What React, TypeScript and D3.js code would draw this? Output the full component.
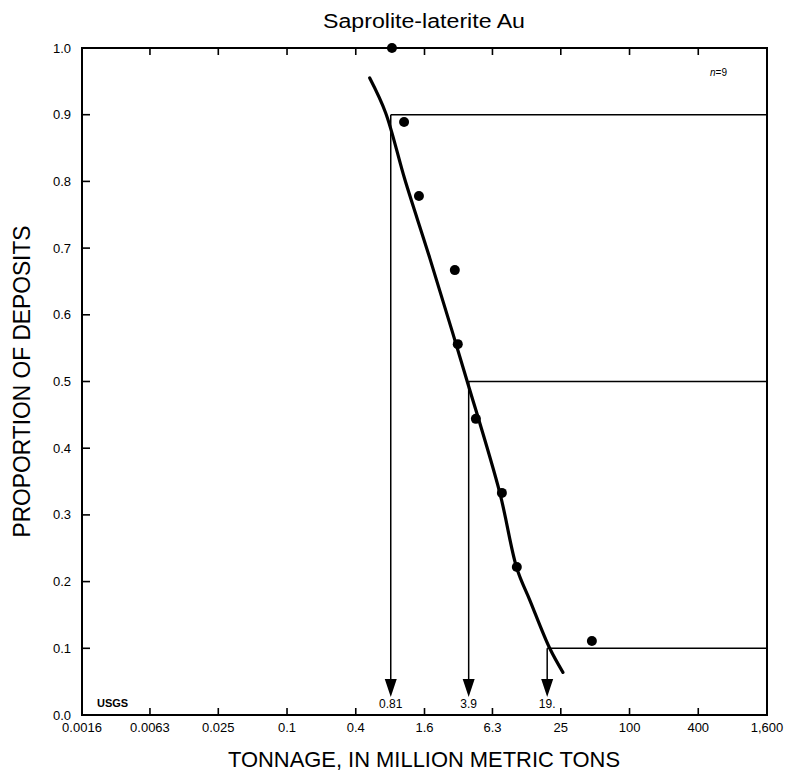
import React from 'react';
import * as d3 from 'd3';

// Tonnage (million metric tons) of each deposit
const depositTonnage = [0.83, 1.06, 1.43, 2.95, 3.13, 4.51, 7.62, 10.3, 46.8];
const depositProportion = [1.0, 0.889, 0.778, 0.667, 0.556, 0.444, 0.333, 0.222, 0.111];

// Fitted lognormal curve
const curveTonnage = [0.53, 0.73, 1.08, 1.78, 3.76, 7.31, 10.3, 13.4, 20.0, 26.1];
const curveProportion = [0.955, 0.903, 0.802, 0.685, 0.502, 0.333, 0.22, 0.172, 0.1, 0.064];

// 90th, 50th and 10th percentile markers
const percentileLevel = [0.9, 0.5, 0.1];
const percentileTonnage = [0.81, 3.9, 19];
const percentileLabel = ['0.81', '3.9', '19.'];

const xTicks = [0.0016, 0.0063, 0.025, 0.1, 0.4, 1.6, 6.3, 25, 100, 400, 1600];
const xTickLabels = ['0.0016', '0.0063', '0.025', '0.1', '0.4', '1.6', '6.3', '25', '100', '400', '1,600'];
const yTicks = [0, 0.1, 0.2, 0.3, 0.4, 0.5, 0.6, 0.7, 0.8, 0.9, 1.0];
const yTickLabels = ['0.0', '0.1', '0.2', '0.3', '0.4', '0.5', '0.6', '0.7', '0.8', '0.9', '1.0'];

const W = 787;
const H = 775;
const margin = { top: 48, right: 20, bottom: 60, left: 82 };
const font = '"Liberation Sans", Arial, Helvetica, sans-serif';

export default function App() {
  const x = d3.scaleLog().domain([0.0016, 1600]).range([margin.left, W - margin.right]);
  const y = d3.scaleLinear().domain([0, 1]).range([H - margin.bottom, margin.top]);

  const curvePts: [number, number][] = curveTonnage.map((t, i) => [x(t), y(curveProportion[i])]);
  const line = d3.line().curve(d3.curveCatmullRom.alpha(0.5));

  const x0 = x.range()[0];
  const x1 = x.range()[1];
  const yb = y(0);
  const yt = y(1);
  const arrowH = 18;
  const arrowW = 12;

  return (
    <div style={{ position: 'absolute', left: 0, top: 0 }}>
      <svg width={W} height={H} style={{ display: 'block', background: '#fff' }} fontFamily={font}>
        <text x={424} y={28} textAnchor="middle" fontSize={20} textLength={202} lengthAdjust="spacingAndGlyphs">
          Saprolite-laterite Au
        </text>

        {/* frame */}
        <rect x={x0} y={yt} width={x1 - x0} height={yb - yt} fill="none" stroke="#000" strokeWidth={2} />

        {/* x ticks, bottom and top, pointing inward */}
        {xTicks.map((t, i) => (
          <g key={'xt' + i}>
            <line x1={x(t)} x2={x(t)} y1={yb} y2={yb - 7} stroke="#000" strokeWidth={1.6} />
            <line x1={x(t)} x2={x(t)} y1={yt} y2={yt + 7} stroke="#000" strokeWidth={1.6} />
            <text x={x(t)} y={yb + 17} textAnchor="middle" fontSize={13}>
              {xTickLabels[i]}
            </text>
          </g>
        ))}

        {/* y ticks */}
        {yTicks.map((v, i) => (
          <g key={'yt' + i}>
            <line x1={x0} x2={x0 + 8} y1={y(v)} y2={y(v)} stroke="#000" strokeWidth={1.6} />
            <text x={x0 - 11} y={y(v) + 4.5} textAnchor="end" fontSize={13}>
              {yTickLabels[i]}
            </text>
          </g>
        ))}

        {/* percentile lines with arrows */}
        {percentileLevel.map((p, i) => {
          const px = x(percentileTonnage[i]);
          const tipY = yb - 18;
          return (
            <g key={'pc' + i}>
              <line x1={px} x2={x1} y1={y(p)} y2={y(p)} stroke="#000" strokeWidth={1.5} />
              <line x1={px} x2={px} y1={y(p)} y2={tipY - arrowH + 2} stroke="#000" strokeWidth={1.5} />
              <path
                d={`M${px - arrowW / 2},${tipY - arrowH}L${px + arrowW / 2},${tipY - arrowH}L${px},${tipY}Z`}
                fill="#000"
              />
              <text x={px} y={yb - 7} textAnchor="middle" fontSize={12}>
                {percentileLabel[i]}
              </text>
            </g>
          );
        })}

        {/* fitted curve */}
        <path d={line(curvePts) || ''} fill="none" stroke="#000" strokeWidth={3.2} strokeLinecap="round" />

        {/* deposits */}
        {depositTonnage.map((t, i) => (
          <circle key={'d' + i} cx={x(t)} cy={y(depositProportion[i])} r={5} fill="#000" />
        ))}

        <text x={x0 + 15} y={yb - 8} fontSize={11} fontWeight="bold">
          USGS
        </text>
        <text x={710} y={76} fontSize={10}>
          <tspan fontStyle="italic">n</tspan>=9
        </text>

        <text
          transform={`translate(30, ${(yt + yb) / 2}) rotate(-90)`}
          textAnchor="middle"
          fontSize={23}
          textLength={312}
          lengthAdjust="spacingAndGlyphs"
        >
          PROPORTION OF DEPOSITS
        </text>
        <text x={424} y={767} textAnchor="middle" fontSize={22} textLength={392} lengthAdjust="spacingAndGlyphs">
          TONNAGE, IN MILLION METRIC TONS
        </text>
      </svg>
    </div>
  );
}
